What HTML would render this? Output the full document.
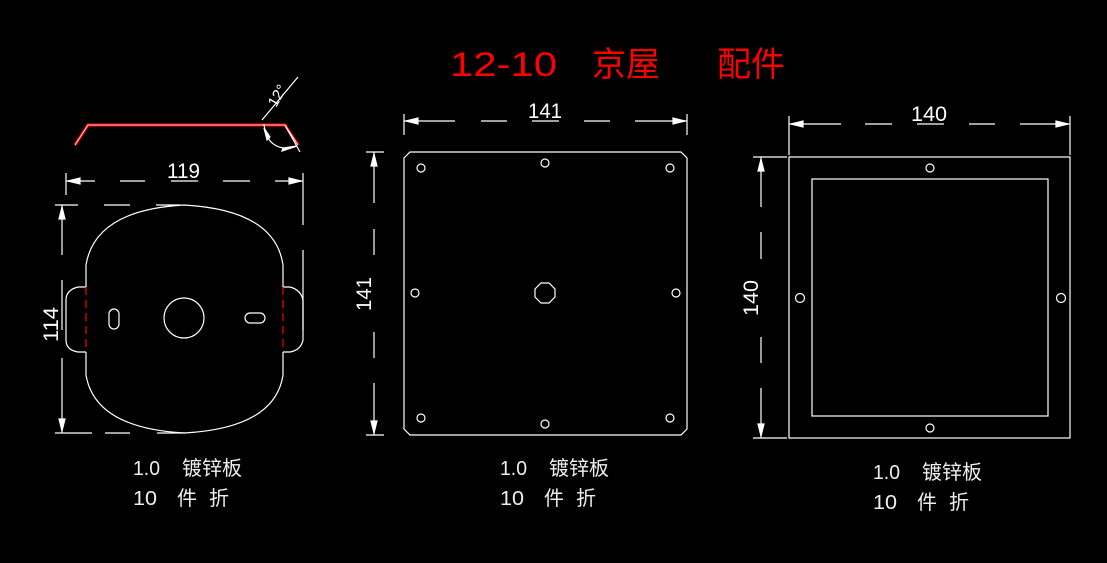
<!DOCTYPE html>
<html><head><meta charset="utf-8"><style>
html,body{margin:0;padding:0;background:#000;width:1107px;height:563px;overflow:hidden}
svg{display:block}
text{font-family:"Liberation Sans","Noto Sans CJK SC",sans-serif}
</style></head><body>
<svg width="1107" height="563" viewBox="0 0 1107 563" xmlns="http://www.w3.org/2000/svg">
<rect width="1107" height="563" fill="#000"/>
<!-- title -->
<text x="450" y="76" fill="#f00" font-size="34" textLength="107" lengthAdjust="spacingAndGlyphs">12-10</text>
<text x="592" y="76" fill="#f00" font-size="34">京屋</text>
<text x="717" y="76" fill="#f00" font-size="34">配件</text>

<g stroke="#fff" stroke-width="1.2" fill="none">
<polyline points="75,145 88,125 285,125 298,145" stroke="#f00" stroke-width="3"/>
<polyline points="75,145 88,125 285,125 298,145" stroke="#fff" stroke-width="0.8"/>
<path d="M298,77 L262,120 M300,152 L285,125"/>
<path d="M264,124 Q266,145 283,148"/>
<polygon points="264,128 267,140 270,137" fill="#fff"/>
<polygon points="283,148 297,146 282,151" fill="#fff"/>
<path d="M66,173 V195 M303,173 V225 M303,250 V330"/>
<path d="M66,181 H95 M120,181 H145 M171,181 H198 M223,181 H250 M275,181 H303" />
<polygon points="68,181 80,178 80,184" fill="#fff"/>
<polygon points="301,181 289,178 289,184" fill="#fff"/>
<path d="M55,205 H78 M104,205 H130 M156,205 H180 M55,433 H92 M105,433 H130 M157,433 H185"/>
<path d="M62,205 V255 M62,280 V330 M62,358 V433" />
<polygon points="62,207 59,219 65,219" fill="#fff"/>
<polygon points="62,431 59,419 65,419" fill="#fff"/>
<path d="M86,287 V265 Q95,210 184,205 Q275,210 283,265 V287 M283,352 V375 Q275,428 184,433 Q95,428 86,375 V352"/>
<path d="M86,287 H78 Q66,290 66,300 V340 Q66,350 78,352 H86"/>
<path d="M283,287 H290 Q301,290 303,300 V340 Q301,350 290,352 H283"/>
<path d="M86,287 V352 M283,287 V352" stroke="#f00" stroke-dasharray="8,5"/>
<circle cx="184" cy="318" r="20"/>
<rect x="109" y="309" width="10" height="20" rx="5"/>
<rect x="245" y="313" width="20" height="10" rx="5"/>
<polygon points="410,152 681,152 687,158 687,429 681,435 410,435 404,429 404,158"/>
<path d="M404,114 V135 M687,114 V135 M404,121 H455 M481,121 H507 M532,121 H559 M584,121 H610 M635,121 H687"/>
<polygon points="406,121 418,118 418,124" fill="#fff"/>
<polygon points="685,121 673,118 673,124" fill="#fff"/>
<path d="M366,152 H384 M366,435 H384 M374,152 V203 M374,229 V255 M374,332 V358 M374,383 V435"/>
<polygon points="374,154 371,166 377,166" fill="#fff"/>
<polygon points="374,433 371,421 377,421" fill="#fff"/>
<circle cx="421" cy="168" r="4"/><circle cx="545" cy="163" r="4"/><circle cx="670" cy="168" r="4"/>
<circle cx="415" cy="293" r="4"/><circle cx="676" cy="293" r="4"/>
<circle cx="421" cy="418" r="4"/><circle cx="545" cy="424" r="4"/><circle cx="670" cy="418" r="4"/>
<polygon points="541,283 549,283 555,289 555,297 549,303 541,303 535,297 535,289"/>
<rect x="789" y="157" width="281" height="281"/>
<rect x="812" y="179" width="236" height="237"/>
<path d="M789,116 V155 M1070,116 V155 M789,124 H841 M865,124 H892 M917,124 H944 M969,124 H995 M1020,124 H1070"/>
<polygon points="791,124 803,121 803,127" fill="#fff"/>
<polygon points="1068,124 1056,121 1056,127" fill="#fff"/>
<path d="M753,157 H787 M753,438 H787 M761,157 V207 M761,232 V259 M761,337 V363 M761,388 V438"/>
<polygon points="761,159 758,171 764,171" fill="#fff"/>
<polygon points="761,436 758,424 764,424" fill="#fff"/>
<circle cx="930" cy="168" r="4"/><circle cx="930" cy="428" r="4"/>
<circle cx="800" cy="298" r="4.5"/><circle cx="1061" cy="298" r="4.5"/>
</g>
<g fill="#fff" font-size="21">
<text x="167" y="178" textLength="33" lengthAdjust="spacingAndGlyphs">119</text>
<text x="528" y="118" textLength="34" lengthAdjust="spacingAndGlyphs">141</text>
<text x="911" y="121" textLength="36" lengthAdjust="spacingAndGlyphs">140</text>
<text transform="translate(58,342) rotate(-90)" textLength="35" lengthAdjust="spacingAndGlyphs">114</text>
<text transform="translate(371,311) rotate(-90)" textLength="34" lengthAdjust="spacingAndGlyphs">141</text>
<text transform="translate(758,316) rotate(-90)" textLength="36" lengthAdjust="spacingAndGlyphs">140</text>
<text transform="translate(276,108) rotate(-60)" font-size="15">12°</text>
</g>
<g fill="#eee" font-size="20">
<text x="133" y="475" textLength="27" lengthAdjust="spacingAndGlyphs">1.0</text><text x="182" y="475">镀锌板</text>
<text x="133" y="505" textLength="24" lengthAdjust="spacingAndGlyphs">10</text><text x="177" y="505">件</text><text x="209" y="505">折</text>
<text x="500" y="475" textLength="27" lengthAdjust="spacingAndGlyphs">1.0</text><text x="549" y="475">镀锌板</text>
<text x="500" y="505" textLength="24" lengthAdjust="spacingAndGlyphs">10</text><text x="544" y="505">件</text><text x="576" y="505">折</text>
<text x="873" y="479" textLength="27" lengthAdjust="spacingAndGlyphs">1.0</text><text x="922" y="479">镀锌板</text>
<text x="873" y="509" textLength="24" lengthAdjust="spacingAndGlyphs">10</text><text x="917" y="509">件</text><text x="949" y="509">折</text>
</g>
</svg>
</body></html>
